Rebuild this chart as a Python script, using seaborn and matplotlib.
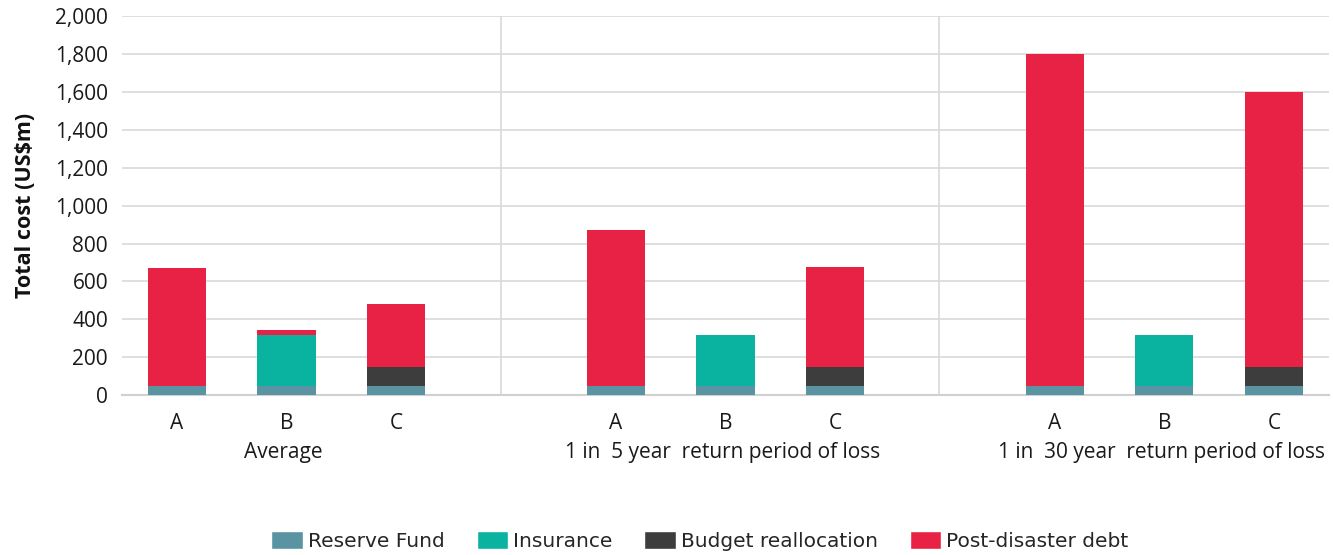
import matplotlib
matplotlib.use("Agg")
import matplotlib.pyplot as plt
from matplotlib.patches import Patch
import numpy as np
import pandas as pd
import seaborn as sns

# data (US$m)
scenarios = ["Average", "1 in  5 year  return period of loss", "1 in  30 year  return period of loss"]
options = ["A", "B", "C"]
reserve_fund = [50, 50, 50, 50, 50, 50, 50, 50, 50]
insurance = [0, 265, 0, 0, 265, 0, 0, 265, 0]
budget_realloc = [0, 0, 100, 0, 0, 100, 0, 0, 100]
post_disaster_debt = [620, 28, 330, 820, 0, 525, 1750, 5, 1450]

series = ["Reserve Fund", "Insurance", "Budget reallocation", "Post-disaster debt"]
colors = ["#5A93A1", "#0AB39F", "#3D3D3D", "#E82244"]

# bar slots: 3 per scenario, one empty slot between scenarios
pos = [g * 4 + i for g in range(len(scenarios)) for i in range(len(options))]
df = pd.DataFrame({
    "pos": pos,
    "label": options * len(scenarios),
    "r": reserve_fund,
    "i": insurance,
    "b": budget_realloc,
    "d": post_disaster_debt,
})
df["c1"] = df["r"]
df["c2"] = df["c1"] + df["i"]
df["c3"] = df["c2"] + df["b"]
df["c4"] = df["c3"] + df["d"]

sns.set_style("white")
plt.rcParams["font.family"] = ["Open Sans", "DejaVu Sans"]

fig, ax = plt.subplots(figsize=(13.33, 5.55), dpi=100)
fig.subplots_adjust(left=0.0915, right=0.997, top=0.971, bottom=0.288)

# stacked bars: draw cumulative totals from top layer down
for col, color in zip(["c4", "c3", "c2", "c1"], colors[::-1]):
    sns.barplot(data=df, x="pos", y=col, native_scale=True, color=color,
                width=0.53, saturation=1, linewidth=0, ax=ax, zorder=3)

ax.set_xlim(-0.5, 10.5)
ax.set_ylim(0, 2000)
ax.set_yticks(np.arange(0, 2001, 200))
ax.set_yticklabels([f"{v:,}" for v in range(0, 2001, 200)], fontsize=15, color="#1A1A1A")
ax.yaxis.grid(True, color="#D9D9D9", linewidth=1.2, zorder=0)
ax.set_axisbelow(True)
for s in ["top", "right", "left"]:
    ax.spines[s].set_visible(False)
ax.spines["bottom"].set_color("#D0D0D0")
ax.spines["bottom"].set_linewidth(1.5)
ax.tick_params(axis="y", length=0, pad=10)

ax.set_xticks(df["pos"])
ax.set_xticklabels(df["label"], fontsize=15, color="#1A1A1A")
ax.tick_params(axis="x", length=0, pad=13)
ax.set_xlabel("")
ax.set_ylabel("Total cost (US$m)", fontsize=15.5, fontweight="bold", labelpad=14, color="#111111")

# separators between scenario groups
for sx in [2.95, 6.95]:
    ax.axvline(sx, color="#D9D9D9", linewidth=1.2, zorder=1)

# scenario labels under the middle bar of each group
for g, name in enumerate(scenarios):
    ax.text(g * 4 + 0.97, -0.15, name, transform=ax.get_xaxis_transform(),
            ha="center", va="center", fontsize=15, color="#1A1A1A")

handles = [Patch(facecolor=c, label=s) for s, c in zip(series, colors)]
fig.legend(handles=handles, loc="center", bbox_to_anchor=(0.525, 0.025), ncol=4,
           frameon=False, handlelength=1.55, handleheight=1.0, columnspacing=1.6,
           handletextpad=0.25, prop={"family": "DejaVu Sans", "size": 14.5})

fig.savefig("out.png", dpi=100)
